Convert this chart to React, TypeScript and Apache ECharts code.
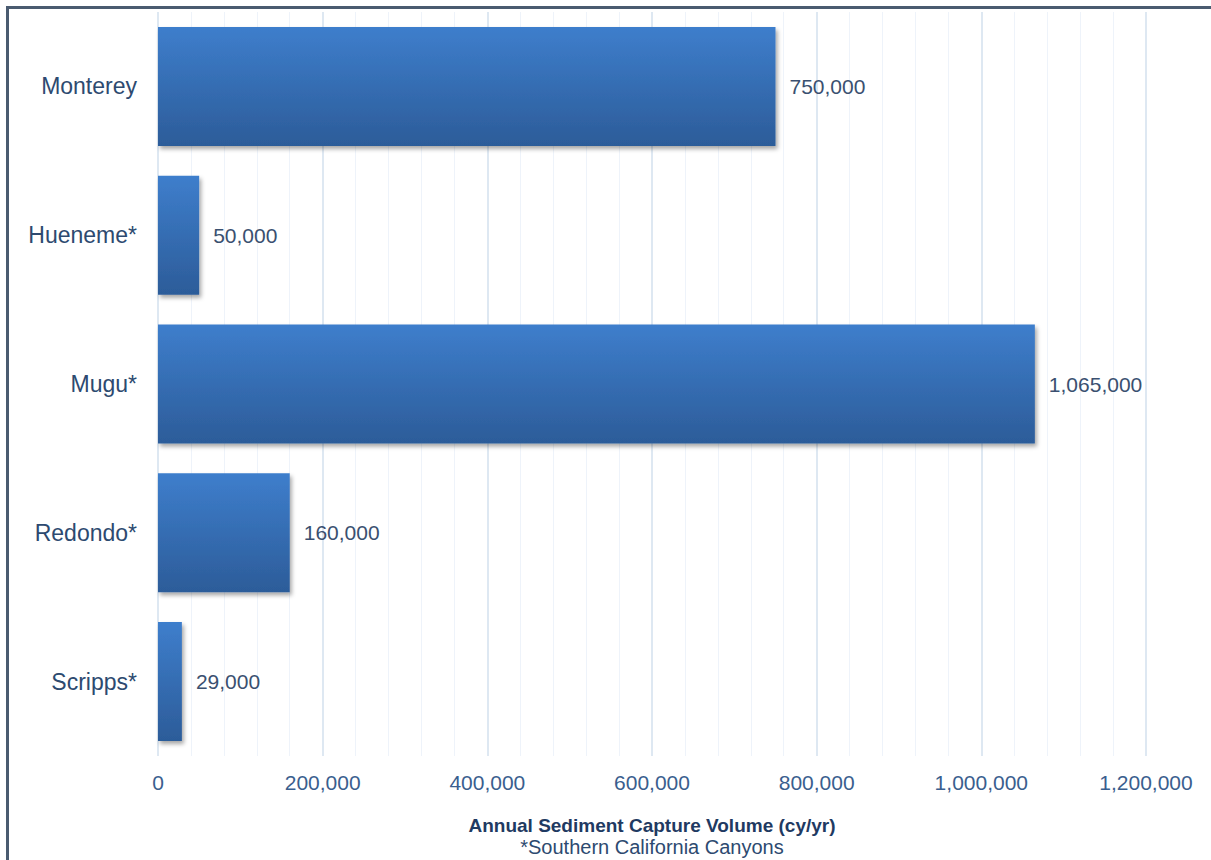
import React, { useEffect, useRef } from "react";
import * as echarts from "echarts";

const categories = ["Monterey", "Hueneme*", "Mugu*", "Redondo*", "Scripps*"];
const volumes = [750000, 50000, 1065000, 160000, 29000];
const axisTitle = "Annual Sediment Capture Volume (cy/yr)";
const subTitle = "*Southern California Canyons";

const fmt = (v: number) => v.toLocaleString("en-US");

export default function App() {
  const ref = useRef<HTMLDivElement>(null);
  useEffect(() => {
    document.body.style.margin = "0";
    const chart = echarts.init(ref.current!, null, { renderer: "svg" });
    chart.setOption({
      animation: false,
      backgroundColor: "#ffffff",
      grid: { left: 158, right: 65, top: 12, bottom: 104, containLabel: false },
      xAxis: {
        type: "value",
        min: 0,
        max: 1200000,
        interval: 200000,
        axisLine: { show: false },
        axisTick: { show: false },
        minorTick: { show: false, splitNumber: 5 },
        splitLine: { show: true, lineStyle: { color: "#d3e0ee", width: 1.5 } },
        minorSplitLine: { show: true, lineStyle: { color: "#eef3fa", width: 1 } },
        axisLabel: {
          formatter: (v: number) => fmt(v),
          color: "#3a5e8e",
          fontFamily: "Liberation Sans, Arial, sans-serif",
          fontSize: 21,
          margin: 16,
        },
      },
      yAxis: {
        type: "category",
        data: categories,
        inverse: true,
        axisLine: { show: false },
        axisTick: { show: false },
        axisLabel: {
          color: "#2d4a70",
          fontFamily: "Liberation Sans, Arial, sans-serif",
          fontSize: 23,
          margin: 21,
        },
      },
      series: [
        {
          type: "bar",
          data: volumes,
          barCategoryGap: "20%",
          itemStyle: {
            color: new echarts.graphic.LinearGradient(0, 0, 0, 1, [
              { offset: 0, color: "#3e7ecc" },
              { offset: 1, color: "#2c5c99" },
            ]),
            shadowBlur: 4,
            shadowOffsetX: 2,
            shadowOffsetY: 3,
            shadowColor: "rgba(0,0,0,0.35)",
          },
          label: {
            show: true,
            position: "right",
            distance: 14,
            formatter: (p: any) => fmt(p.value),
            color: "#3a5070",
            fontFamily: "Liberation Sans, Arial, sans-serif",
            fontSize: 21,
          },
        },
      ],
      graphic: [
        {
          type: "text",
          style: {
            text: axisTitle,
            x: 652,
            y: 825,
            align: "center",
            verticalAlign: "middle",
            fill: "#1f3a62",
            font: "bold 19px 'Liberation Sans Narrow', 'Liberation Sans', Arial, sans-serif",
          },
        },
        {
          type: "text",
          style: {
            text: subTitle,
            x: 652,
            y: 847,
            align: "center",
            verticalAlign: "middle",
            fill: "#2d4a70",
            font: "20px 'Liberation Sans', Arial, sans-serif",
          },
        },
        {
          type: "line",
          shape: { x1: 7, y1: 7.5, x2: 1211, y2: 7.5 },
          style: { stroke: "#4a5b70", lineWidth: 3 },
        },
        {
          type: "line",
          shape: { x1: 7.5, y1: 6, x2: 7.5, y2: 860 },
          style: { stroke: "#4a5b70", lineWidth: 3 },
        },
      ],
    });
    return () => chart.dispose();
  }, []);
  return <div ref={ref} style={{ width: 1211, height: 860 }} />;
}
